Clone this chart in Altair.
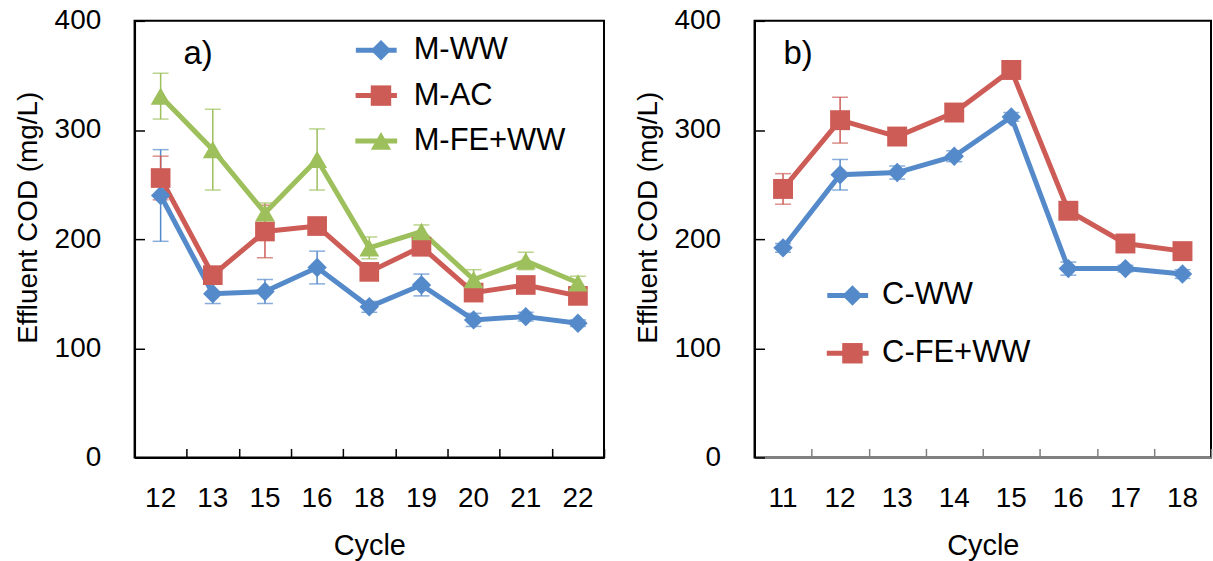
import altair as alt
import pandas as pd

# ---------------- data ----------------
cycles_a = ["12", "13", "15", "16", "18", "19", "20", "21", "22"]
series_a = ["M-WW", "M-AC", "M-FE+WW"]
m_ww = [240, 150, 152, 174, 138, 158, 126, 129, 123]
m_ww_err = [42, 9, 11, 15, 5, 10, 6, 4, 3]
m_ac = [256, 167, 207, 212, 170, 193, 151, 158, 148]
m_ac_err = [20, 4, 24, 5, 4, 5, 4, 4, 4]
m_fe = [331, 282, 224, 273, 192, 207, 163, 180, 160]
m_fe_err = [21, 37, 9, 28, 10, 6, 9, 8, 6]

cycles_b = ["11", "12", "13", "14", "15", "16", "17", "18"]
series_b = ["C-WW", "C-FE+WW"]
c_ww = [192, 259, 261, 276, 312, 173, 173, 168]
c_ww_err = [4, 14, 6, 5, 4, 6, 3, 4]
c_fe = [246, 309, 294, 316, 355, 226, 196, 189]
c_fe_err = [14, 21, 3, 3, 3, 3, 3, 3]

y_ticks = [0, 100, 200, 300, 400]

# ---------------- styles ----------------
BLUE, RED, GREEN = "#558ACA", "#CD5C57", "#9DC05C"
colors_a = [BLUE, RED, GREEN]
shapes_a = ["diamond", "square", "triangle-up"]
sizes_a = [380, 400, 520]
colors_b = [BLUE, RED]
shapes_b = ["diamond", "square"]
sizes_b = [380, 400]

LEGEND_LINE = "M-2.1,0L2.1,0"


def to_frame(cycles, names, values, errors):
    rows = []
    for name, vals, errs in zip(names, values, errors):
        for c, v, e in zip(cycles, vals, errs):
            rows.append({"Cycle": c, "Series": name, "COD": v,
                         "Low": v - e, "High": v + e})
    return pd.DataFrame(rows)


def panel(df, cycles, names, colors, shapes, sizes, width, label, label_dx,
          legend_x, legend_y, row_pad, label_offset, bottom_color):
    xscale = alt.Scale(type="band", domain=cycles, paddingInner=0, paddingOuter=0)
    yscale = alt.Scale(domain=[0, 400], nice=False)

    x_main = alt.X("Cycle:N", sort=cycles, scale=xscale, axis=alt.Axis(
        orient="bottom", title="Cycle", labelAngle=0, labelFontSize=28,
        labelColor="black", labelPadding=49, labelBaseline="alphabetic",
        ticks=False, domainColor=bottom_color, domainWidth=2,
        titleFontSize=29, titleFontWeight="normal", titleColor="black",
        titleBaseline="alphabetic", titleY=97))
    x_tick = alt.X("Cycle:N", sort=cycles, scale=xscale, axis=alt.Axis(
        orient="bottom", title=None, labels=False, domain=False, ticks=True,
        tickBand="extent", tickSize=9, offset=-9, tickColor=bottom_color,
        tickWidth=1.5))
    x_none = alt.X("Cycle:N", sort=cycles, scale=xscale, axis=None)

    y_main = alt.Y("COD:Q", scale=yscale, axis=alt.Axis(
        orient="left", values=y_ticks, title="Effluent COD (mg/L)", titleFontSize=28,
        titleFontWeight="normal", titleColor="black", titleX=-106, titleY=197,
        titleAngle=270, titleAlign="center", titleBaseline="middle",
        labelFontSize=28, labelColor="black", labelPadding=34, ticks=False,
        domainColor="black", domainWidth=2, grid=False))
    y_tick = alt.Y("Low:Q", scale=yscale, axis=alt.Axis(
        orient="left", values=y_ticks, title=None, labels=False, domain=False,
        ticks=True, tickSize=10, offset=-10, tickColor="black", tickWidth=1.5,
        grid=False))

    # line/stroke scale and marker/fill scale get different domains so that
    # Vega-Lite keeps them as two legends drawn on top of each other
    sscale = alt.Scale(domain=names, range=colors)
    fscale = alt.Scale(domain=names + ["_"], range=colors + ["transparent"])
    shscale = alt.Scale(domain=names + ["_"], range=shapes + ["circle"])

    line_legend = alt.Legend(
        title=None, orient="none", legendX=legend_x, legendY=legend_y,
        direction="vertical", labelFontSize=31, labelColor="black",
        labelOffset=label_offset, symbolType=LEGEND_LINE, symbolSize=900,
        symbolStrokeWidth=5, symbolFillColor="transparent",
        rowPadding=row_pad, padding=0, labelLimit=400, values=names)
    mark_legend = alt.Legend(
        title=None, orient="none", legendX=legend_x + 4.75, legendY=legend_y,
        direction="vertical", labelFontSize=31, labelExpr="''",
        labelOffset=label_offset, symbolSize=420, symbolStrokeWidth=0,
        symbolOpacity=1, rowPadding=row_pad, padding=0, labelLimit=400,
        values=names)

    stroke_enc = alt.Stroke("Series:N", scale=sscale, legend=line_legend)
    fill_enc = alt.Fill("Series:N", scale=fscale, legend=mark_legend)
    base = alt.Chart(df)

    rules = base.mark_rule(strokeWidth=1.5).encode(
        x=x_tick, y=y_tick, y2="High:Q", stroke=stroke_enc)
    cap_hi = base.mark_tick(size=16, thickness=1.5).encode(
        x=x_none, y=alt.Y("High:Q", scale=yscale, axis=None), fill=fill_enc)
    cap_lo = base.mark_tick(size=16, thickness=1.5).encode(
        x=x_none, y=alt.Y("Low:Q", scale=yscale, axis=None), fill=fill_enc)
    lines = base.mark_line(strokeWidth=5).encode(
        x=x_none, y=alt.Y("COD:Q", scale=yscale, axis=None), stroke=stroke_enc)
    points = base.mark_point(filled=True, opacity=1).encode(
        x=x_main, y=y_main, fill=fill_enc,
        shape=alt.Shape("Series:N", scale=shscale, legend=mark_legend),
        size=alt.Size("Series:N", scale=alt.Scale(domain=names, range=sizes), legend=None),
    )
    return alt.layer(rules, cap_hi, cap_lo, lines, points).resolve_axis(
        x="independent", y="independent").properties(
        width=width, height=438,
        title=alt.TitleParams(label, anchor="start", frame="group", orient="top",
                              offset=0, baseline="top", dx=label_dx, dy=64,
                              fontSize=33, fontWeight="normal", color="black"),
    )


df_a = to_frame(cycles_a, series_a, [m_ww, m_ac, m_fe], [m_ww_err, m_ac_err, m_fe_err])
df_b = to_frame(cycles_b, series_b, [c_ww, c_fe], [c_ww_err, c_fe_err])

left = panel(df_a, cycles_a, series_a, colors_a, shapes_a, sizes_a, 471, "a)", 49,
             227, 14, 13.5, 22, "black")
right = panel(df_b, cycles_b, series_b, colors_b, shapes_b, sizes_b, 458, "b)", 29,
              78, 260, 26, 19, "#808080")

chart = (
    alt.hconcat(left, right, spacing=28)
    .resolve_scale(fill="independent", stroke="independent", shape="independent",
                   size="independent")
    .properties(padding={"left": 14, "top": 5, "right": 0, "bottom": 0})
    .configure(font="Liberation Sans")
    .configure_view(stroke="black", strokeWidth=2)
)

chart.save("out.html", embed_options={"renderer": "svg", "actions": False})
